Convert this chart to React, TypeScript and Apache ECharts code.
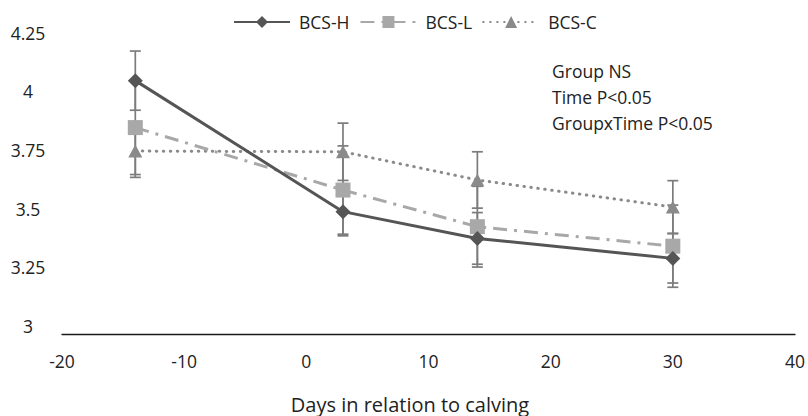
import React, { useEffect, useRef } from "react";
import * as echarts from "echarts";

const days = [-14, 3, 14, 30];
const seriesNames = ["BCS-H", "BCS-L", "BCS-C"];
const bcsH = [4.045, 3.487, 3.373, 3.288];
const bcsL = [3.845, 3.579, 3.423, 3.34];
const bcsC = [3.745, 3.742, 3.622, 3.507];
const errH = [0.126, 0.103, 0.11, 0.105];
const errL = [0.2, 0.188, 0.172, 0.175];
const errC = [0.112, 0.122, 0.12, 0.112];
const yTicks = [3, 3.25, 3.5, 3.75, 4, 4.25];
const xTicks = [-20, -10, 0, 10, 20, 30, 40];
const notes = ["Group NS", "Time P<0.05", "GroupxTime P<0.05"];
const xTitle = "Days in relation to calving";

const FONT = "'Open Sans', 'Noto Sans', sans-serif";
const TEXT = "#222222";
const ERR_COLOR = "#7c7c7c";

function errSeries(vals: number[], errs: number[], name: string) {
  return {
    type: "custom",
    name: name + "-err",
    z: 1,
    silent: true,
    encode: { x: 0, y: [1, 2] },
    data: days.map((d, i) => [d, vals[i] - errs[i], vals[i] + errs[i]]),
    renderItem: (params: any, api: any) => {
      const x = api.value(0);
      const lo = api.coord([x, api.value(1)]);
      const hi = api.coord([x, api.value(2)]);
      const hw = 5.5;
      const style = { stroke: ERR_COLOR, lineWidth: 1.7 };
      return {
        type: "group",
        children: [
          { type: "line", shape: { x1: lo[0], y1: lo[1], x2: hi[0], y2: hi[1] }, style },
          { type: "line", shape: { x1: lo[0] - hw, y1: lo[1], x2: lo[0] + hw, y2: lo[1] }, style },
          { type: "line", shape: { x1: hi[0] - hw, y1: hi[1], x2: hi[0] + hw, y2: hi[1] }, style },
        ],
      };
    },
  };
}

export default function App() {
  const ref = useRef<HTMLDivElement>(null);
  useEffect(() => {
    if (!ref.current) return;
    const chart = echarts.init(ref.current, null, { renderer: "svg" });
    const option: any = {
      animation: false,
      backgroundColor: "#ffffff",
      textStyle: { fontFamily: FONT },
      grid: { left: 62, right: 12, top: 32.5, bottom: 90 },
      legend: {
        data: seriesNames,
        left: 233,
        top: 13,
        padding: 0,
        itemWidth: 56,
        itemHeight: 15,
        itemGap: 10,
        textStyle: { fontFamily: FONT, fontSize: 17.5, color: TEXT, padding: [0, 0, 0, 4] },
      },
      xAxis: {
        type: "value",
        min: -20,
        max: 40,
        interval: 10,
        offset: 8,
        axisLine: { show: true, onZero: false, lineStyle: { color: "#1a1a1a", width: 1.3 } },
        axisTick: { show: false },
        splitLine: { show: false },
        axisLabel: {
          fontFamily: FONT,
          fontSize: 17.5,
          color: TEXT,
          margin: 18,
          customValues: xTicks,
        },
      },
      yAxis: {
        type: "value",
        min: 3,
        max: 4.25,
        interval: 0.25,
        axisLine: { show: false },
        axisTick: { show: false },
        splitLine: { show: false },
        axisLabel: {
          fontFamily: FONT,
          fontSize: 17.5,
          color: TEXT,
          align: "center",
          margin: 34,
          customValues: yTicks,
        },
      },
      graphic: [
        {
          type: "text",
          left: 552,
          top: 58,
          style: {
            text: notes.join("\n"),
            font: `17.5px ${FONT}`,
            fill: TEXT,
            lineHeight: 25.8,
          },
        },
        {
          type: "text",
          x: 410,
          y: 404,
          style: {
            text: xTitle,
            font: `20px ${FONT}`,
            fill: TEXT,
            align: "center",
            verticalAlign: "middle",
          },
        },
      ],
      series: [
        errSeries(bcsH, errH, "BCS-H"),
        errSeries(bcsL, errL, "BCS-L"),
        errSeries(bcsC, errC, "BCS-C"),
        {
          name: "BCS-C",
          type: "line",
          z: 3,
          data: days.map((d, i) => [d, bcsC[i]]),
          symbol: "triangle",
          symbolSize: [14, 13],
          color: "#8a8a8a",
          itemStyle: { color: "#8a8a8a", borderWidth: 0 },
          lineStyle: { color: "#8a8a8a", width: 3, type: [0.5, 6.5], cap: "round" },
        },
        {
          name: "BCS-L",
          type: "line",
          z: 4,
          data: days.map((d, i) => [d, bcsL[i]]),
          symbol: "rect",
          symbolSize: 15,
          color: "#a8a8a8",
          itemStyle: { color: "#a8a8a8", borderWidth: 0 },
          lineStyle: { color: "#a8a8a8", width: 3, type: [14, 7, 3, 7] },
        },
        {
          name: "BCS-H",
          type: "line",
          z: 5,
          data: days.map((d, i) => [d, bcsH[i]]),
          symbol: "diamond",
          symbolSize: 15,
          color: "#555555",
          itemStyle: { color: "#555555", borderWidth: 0 },
          lineStyle: { color: "#555555", width: 3, type: "solid" },
        },
      ],
    };
    chart.setOption(option);
    return () => chart.dispose();
  }, []);
  return (
    <div
      ref={ref}
      style={{ position: "absolute", left: 0, top: 0, width: 808, height: 416 }}
    />
  );
}
